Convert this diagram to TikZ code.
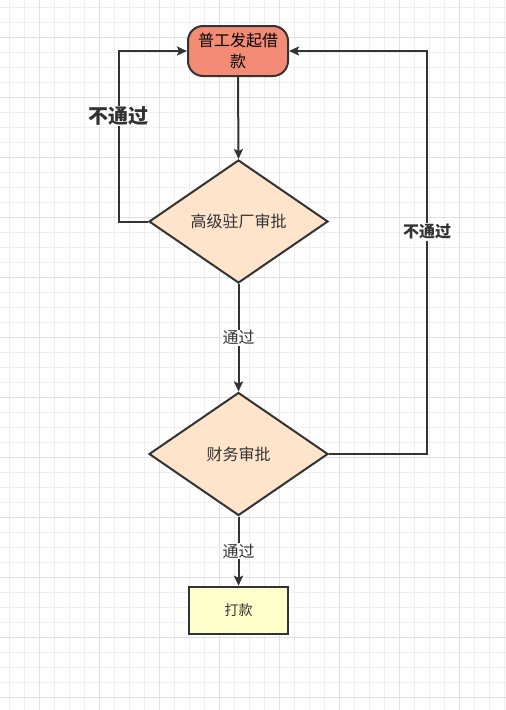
\documentclass[tikz,border=0pt]{standalone}
\usepackage{fontspec}
\newfontfamily\cjk{Noto Sans CJK SC}
\usepackage{tikz}
\usetikzlibrary{arrows.meta, positioning, shapes.geometric}
\definecolor{flowline}{HTML}{333333}
\definecolor{startred}{HTML}{F48B75}
\definecolor{checkpeach}{HTML}{FFE4CC}
\definecolor{payyellow}{HTML}{FFFFCC}
\definecolor{gridminor}{HTML}{EFEFEF}
\definecolor{gridmajor}{HTML}{E0E0E0}

\begin{document}
\begin{tikzpicture}[x=1pt, y=-1pt,
  startbox/.style={draw=flowline, line width=2pt, rounded corners=15pt,
    minimum width=100pt, minimum height=50pt, align=center,
    font=\cjk\fontsize{16}{21}\selectfont, text=black, fill=#1},
  check/.style={draw=flowline, line width=2pt, diamond, aspect=1.45,
    minimum width=179pt, minimum height=123pt, inner sep=0pt,
    font=\cjk\fontsize{16}{19}\selectfont, text=flowline, fill=#1},
  paybox/.style={draw=flowline, line width=2.5pt, minimum width=99pt,
    minimum height=47pt, font=\cjk\fontsize{14}{16}\selectfont,
    text=flowline, fill=#1},
  arr/.style={-{Stealth[length=10pt, width=9pt, inset=2pt]},
    line width=2pt, flowline},
  lbl/.style={fill=white, inner sep=1pt, text=flowline,
    font=\cjk\fontsize{16}{19}\selectfont}
]
  \useasboundingbox (0,0) rectangle (506,710);
  \fill[white] (0,0) rectangle (506,710);

  % Grid
  \foreach \x in {9,24,...,506} {
    \draw[gridminor, line width=0.8pt] (\x,0) -- (\x,710);
  }
  \foreach \y in {7,22,...,710} {
    \draw[gridminor, line width=0.8pt] (0,\y) -- (506,\y);
  }
  \foreach \x in {39,99,...,506} {
    \draw[gridmajor, line width=0.8pt] (\x,0) -- (\x,710);
  }
  \foreach \y in {37,97,...,710} {
    \draw[gridmajor, line width=0.8pt] (0,\y) -- (506,\y);
  }

  % Steps
  \node[startbox=startred] (apply) at (238,51) {普工发起借\\款};
  \node[check=checkpeach] (plant) at (238.5,221.5) {高级驻厂审批};
  \node[check=checkpeach] (finance) at (238.5,454) {财务审批};
  \node[paybox=payyellow] (pay) at (238.5,610.5) {打款};

  % Forward flow
  \draw[arr] (apply.south) -- (plant.north);
  \draw[arr] (plant.south) -- node[lbl] {通过} (finance.north);
  \draw[arr] (finance.south) -- node[lbl] {通过} (pay.north);

  % Rejections back to start
  \coordinate (leftbend) at (119,221.5);
  \coordinate (rightbend) at (427,454);
  \draw[arr] (plant.west) -- (leftbend) |- (apply.west);
  \draw[arr] (finance.east) -- (rightbend) |- (apply.east);
  \node[lbl, font=\cjk\bfseries\fontsize{20}{23}\selectfont] (rejectl)
    at (118,116) {不通过};
  \node[lbl, font=\cjk\bfseries\fontsize{16}{19}\selectfont] (rejectr)
    at (427,232) {不通过};
\end{tikzpicture}
\end{document}
